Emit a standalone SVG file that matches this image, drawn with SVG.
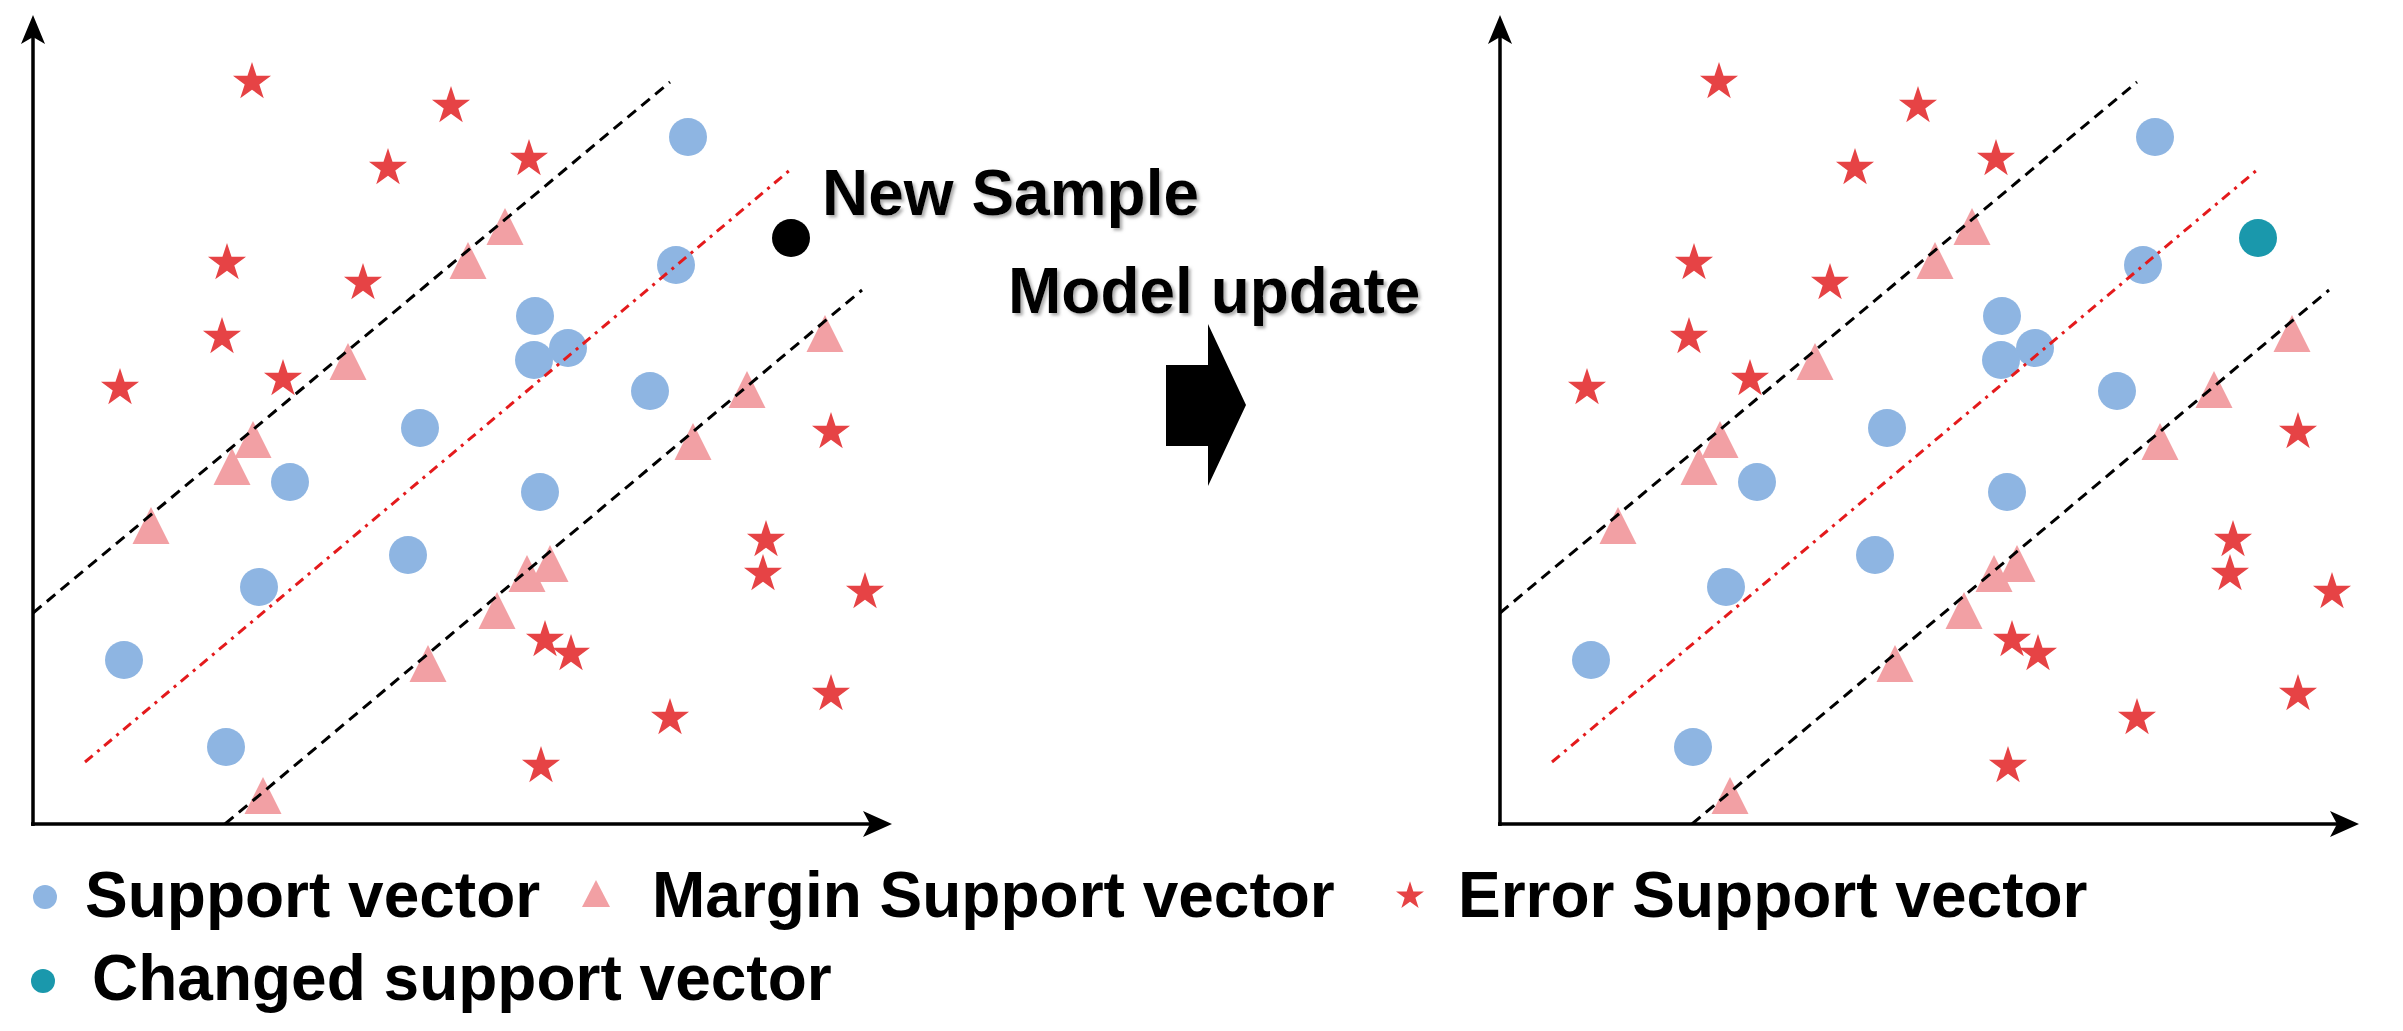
<svg xmlns="http://www.w3.org/2000/svg" xmlns:xlink="http://www.w3.org/1999/xlink" width="2403" height="1031" viewBox="0 0 2403 1031">
<style>
.sv{fill:#8EB5E2}
.msv{fill:#F2A0A4}
.esv{fill:#E64345}
.chg{fill:#1A98AC}
.axis{stroke:#000;stroke-width:3.5;fill:none}
.margin{stroke:#000;stroke-width:3;stroke-dasharray:11 7;fill:none}
.hyper{stroke:#E41A1C;stroke-width:3;stroke-dasharray:10 6 3 6;fill:none}
.lbl{font-family:"Liberation Sans",Arial,sans-serif;font-weight:bold;font-size:64px;fill:#000}
.shadow{filter:url(#ts)}
</style>
<defs>
<filter id="ts" x="-10%" y="-30%" width="120%" height="160%">
<feDropShadow dx="2.5" dy="2.5" stdDeviation="1.5" flood-color="#777" flood-opacity="0.6"/>
</filter>
<path id="star" d="M0,-20 L4.53,-6.23 L19.02,-6.18 L7.32,2.38 L11.76,16.18 L0,7.7 L-11.76,16.18 L-7.32,2.38 L-19.02,-6.18 L-4.53,-6.23 Z"/>
<path id="tri" d="M0,0 L18.5,37 L-18.5,37 Z"/>
<path id="arrowY" d="M0,-3 L12,26 L0,19 L-12,26 Z"/>
<path id="arrowX" d="M3,0 L-26,-13 L-19,0 L-26,13 Z"/>
<g id="points">
<g id="support-vectors" class="sv">
<circle cx="688" cy="137" r="19"/>
<circle cx="676" cy="265" r="19"/>
<circle cx="535" cy="316" r="19"/>
<circle cx="568" cy="348" r="19"/>
<circle cx="534" cy="360" r="19"/>
<circle cx="650" cy="391" r="19"/>
<circle cx="420" cy="428" r="19"/>
<circle cx="290" cy="482" r="19"/>
<circle cx="540" cy="492" r="19"/>
<circle cx="408" cy="555" r="19"/>
<circle cx="259" cy="587" r="19"/>
<circle cx="124" cy="660" r="19"/>
<circle cx="226" cy="747" r="19"/>
</g>
<g id="margin-support-vectors" class="msv">
<use href="#tri" x="505" y="208"/>
<use href="#tri" x="468" y="242"/>
<use href="#tri" x="348" y="343"/>
<use href="#tri" x="253" y="421"/>
<use href="#tri" x="232" y="448"/>
<use href="#tri" x="151" y="507"/>
<use href="#tri" x="825" y="315"/>
<use href="#tri" x="747" y="371"/>
<use href="#tri" x="693" y="423"/>
<use href="#tri" x="550" y="545"/>
<use href="#tri" x="527" y="555"/>
<use href="#tri" x="497" y="592"/>
<use href="#tri" x="428" y="645"/>
<use href="#tri" x="263" y="777"/>
</g>
<g id="error-support-vectors" class="esv">
<use href="#star" x="252" y="82"/>
<use href="#star" x="451" y="106"/>
<use href="#star" x="388" y="168"/>
<use href="#star" x="529" y="159"/>
<use href="#star" x="227" y="263"/>
<use href="#star" x="363" y="283"/>
<use href="#star" x="222" y="337"/>
<use href="#star" x="283" y="379"/>
<use href="#star" x="120" y="388"/>
<use href="#star" x="831" y="432"/>
<use href="#star" x="766" y="540"/>
<use href="#star" x="763" y="574"/>
<use href="#star" x="865" y="592"/>
<use href="#star" x="545" y="640"/>
<use href="#star" x="571" y="654"/>
<use href="#star" x="831" y="694"/>
<use href="#star" x="670" y="718"/>
<use href="#star" x="541" y="766"/>
</g>
</g>
<g id="plotlines">
<line class="margin" x1="33" y1="613" x2="670" y2="82"/>
<line class="hyper" x1="85" y1="762" x2="790" y2="170"/>
<line class="margin" x1="225" y1="824" x2="862" y2="290"/>
<line class="axis" x1="33" y1="826" x2="33" y2="30"/>
<line class="axis" x1="31" y1="824" x2="875" y2="824"/>
<use href="#arrowY" x="33" y="18" fill="#000"/>
<use href="#arrowX" x="889" y="824" fill="#000"/>
</g>
</defs>

<g id="panel-before">
<use href="#points"/>
<g id="new-sample"><circle cx="791" cy="238" r="19" fill="#000"/></g>
<use href="#plotlines"/>
</g>

<g id="panel-after" transform="translate(1467,0)">
<use href="#points"/>
<g id="changed-sv"><circle cx="791" cy="238" r="19" class="chg"/></g>
<use href="#plotlines"/>
</g>

<g id="label-new-sample"><text class="lbl shadow" x="822" y="215">New Sample</text></g>
<g id="label-model-update"><text class="lbl shadow" x="1008" y="313">Model update</text></g>
<g id="update-arrow"><path d="M1166,365 L1208,365 L1208,324 L1246,405 L1208,486 L1208,446 L1166,446 Z" fill="#000"/></g>

<g id="legend">
<g id="legend-sv"><circle cx="45" cy="897" r="12" class="sv"/><text class="lbl" x="85" y="917">Support vector</text></g>
<g id="legend-msv"><path d="M596,880 L610,907 L582,907 Z" class="msv"/><text class="lbl" x="652" y="917">Margin Support vector</text></g>
<g id="legend-esv"><use href="#star" class="esv" transform="translate(1410,896) scale(0.735)"/><text class="lbl" x="1458" y="917">Error Support vector</text></g>
<g id="legend-chg"><circle cx="43" cy="981" r="12" class="chg"/><text class="lbl" x="92" y="1000">Changed support vector</text></g>
</g>
</svg>
